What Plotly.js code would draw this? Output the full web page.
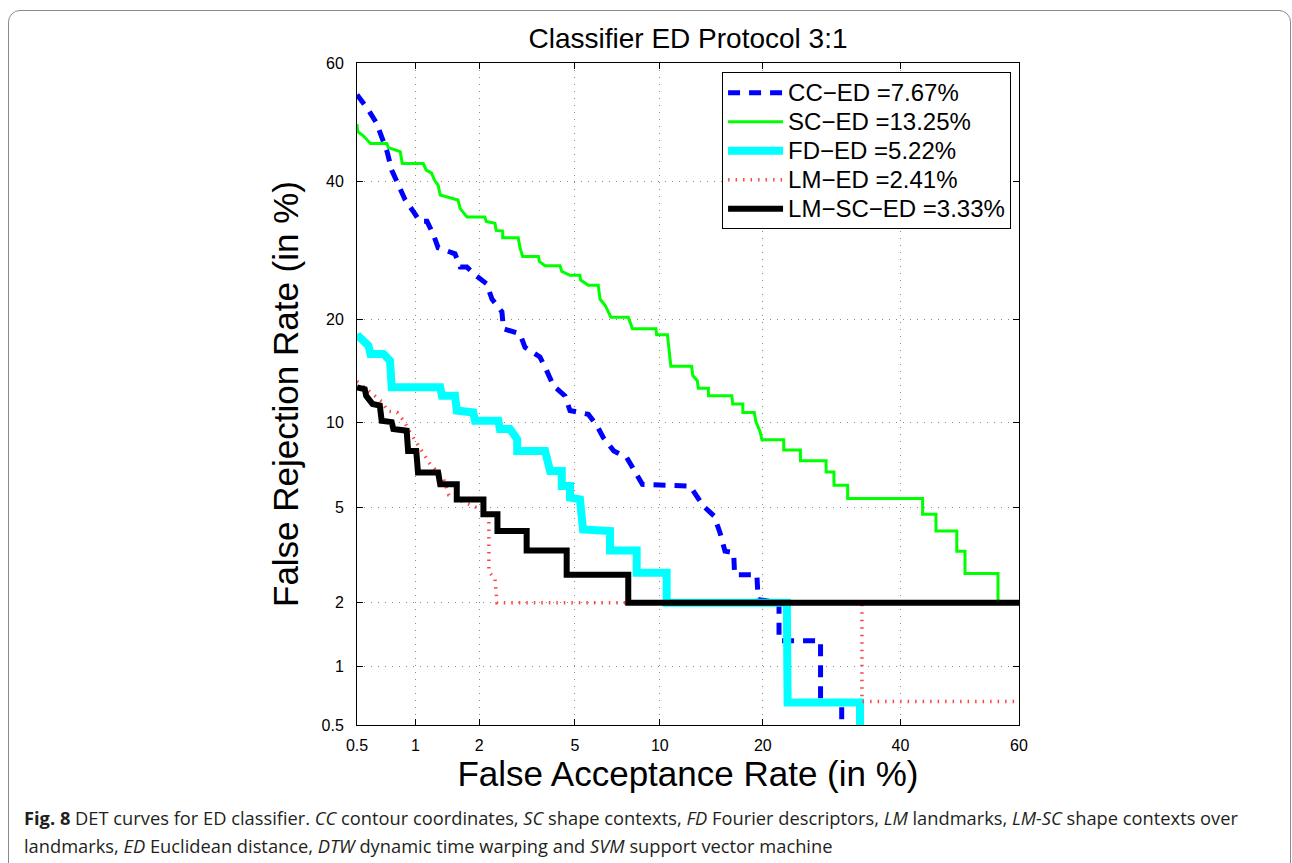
<!DOCTYPE html>
<html>
<head>
<meta charset="utf-8">
<script src="https://cdn.plot.ly/plotly-3.0.1.min.js"></script>
<style>
  html, body { margin: 0; padding: 0; background: #fff; }
  #wrap { position: relative; width: 1292px; height: 863px; overflow: hidden; }
  #frame { position: absolute; left: 8px; top: 10px; width: 1281px; height: 900px;
           border: 1px solid #8a8a8a; border-radius: 12px; pointer-events: none; }
  #chart { position: absolute; left: 0; top: 0; width: 1292px; height: 863px; }
</style>
</head>
<body>
<div id="wrap">
  <div id="chart"></div>
  <div id="frame"></div>
</div>
<script>
// ---- data (percent values) ----
const tickValues = [0.5, 1, 2, 5, 10, 20, 40, 60];
const tickLabels = ["0.5", "1", "2", "5", "10", "20", "40", "60"];

const ccFAR = [0.5, 0.575, 0.636, 0.67, 0.72, 0.76, 0.82, 0.89, 0.98, 1.05, 1.14, 1.22, 1.29, 1.55, 1.64, 1.76, 1.93, 2.16, 2.28, 2.52, 2.56, 3.01, 3.16, 3.64, 3.88, 4.13, 4.58, 4.79, 5.62, 6.05, 6.38, 6.97, 7.73, 8.16, 8.75, 12.45, 13.66, 14.7, 15.28, 15.79, 16.7, 16.8, 19.3, 19.45, 22.0, 22.0, 27.6, 27.6, 30.7, 30.7];
const ccFRR = [54.7, 52.1, 49.8, 47.6, 45.0, 41.9, 39.7, 37.0, 35.1, 33.6, 33.6, 31.7, 29.6, 28.7, 26.8, 26.8, 25.65, 24.5, 22.5, 20.9, 18.87, 18.3, 16.8, 15.8, 14.4, 13.0, 12.12, 10.9, 10.6, 9.74, 8.9, 8.0, 7.6, 6.91, 6.09, 6.0, 5.05, 4.62, 3.97, 3.34, 3.29, 2.66, 2.66, 2.07, 2.0, 1.335, 1.335, 0.66, 0.66, 0.45];

const scFAR = [0.5, 0.505, 0.54, 0.59, 0.717, 0.73, 0.84, 0.86, 1.094, 1.13, 1.2, 1.24, 1.29, 1.32, 1.6, 1.64, 1.76, 2.12, 2.15, 2.35, 2.38, 2.54, 2.54, 2.96, 3.01, 3.09, 3.59, 3.62, 3.82, 4.38, 4.45, 4.79, 5.23, 5.26, 5.62, 6.12, 6.21, 6.48, 6.66, 6.8, 7.83, 8.1, 9.71, 9.76, 10.58, 10.66, 10.85, 12.6, 12.7, 13.1, 13.2, 14.14, 14.14, 16.5, 16.6, 17.7, 17.7, 19.0, 19.2, 19.66, 19.9, 22.6, 22.6, 24.8, 24.8, 28.4, 28.4, 29.55, 29.55, 31.6, 31.6, 43.7, 43.7, 45.96, 45.96, 49.5, 49.5, 50.9, 50.9, 56.5, 56.5];
const scFRR = [49.7, 48.4, 47.7, 46.4, 46.4, 45.7, 45.0, 43.0, 43.0, 41.9, 41.4, 40.2, 39.4, 37.8, 37.0, 35.6, 34.3, 34.3, 33.6, 33.3, 32.2, 32.1, 31.1, 31.1, 29.6, 28.3, 28.3, 27.6, 27.0, 27.0, 26.2, 25.65, 25.65, 25.0, 24.3, 24.3, 22.5, 21.7, 20.9, 20.25, 20.25, 18.87, 18.87, 18.2, 18.2, 17.0, 14.86, 14.86, 13.95, 13.47, 12.78, 12.78, 12.12, 12.12, 11.43, 11.43, 10.75, 10.75, 10.0, 9.34, 8.74, 8.74, 8.07, 8.07, 7.4, 7.4, 6.75, 6.75, 6.04, 6.04, 5.39, 5.39, 4.69, 4.69, 4.03, 4.03, 3.34, 3.34, 2.69, 2.69, 2.0];

const fdFAR = [0.5, 0.505, 0.575, 0.59, 0.69, 0.745, 0.76, 1.32, 1.345, 1.55, 1.58, 1.88, 1.915, 2.43, 2.47, 2.73, 2.93, 2.93, 3.82, 3.88, 4.0, 4.45, 4.45, 4.79, 4.79, 5.23, 5.37, 6.75, 6.75, 8.37, 8.37, 10.52, 10.52, 23.0, 23.1, 33.5, 33.5];
const fdFRR = [18.3, 18.1, 17.0, 16.1, 16.1, 15.4, 12.87, 12.87, 12.12, 12.12, 10.9, 10.75, 10.1, 10.1, 9.49, 9.49, 8.78, 8.0, 8.0, 7.4, 6.81, 6.81, 6.0, 6.0, 5.43, 5.35, 4.09, 4.03, 3.36, 3.36, 2.71, 2.71, 2.0, 2.0, 0.657, 0.657, 0.45];

const lmFAR = [0.5, 0.6, 0.68, 0.725, 0.81, 0.875, 0.915, 0.94, 1.14, 1.18, 1.36, 1.45, 1.53, 2.03, 2.21, 2.21, 2.35, 2.4, 33.8, 33.8, 60];
const lmFRR = [13.4, 12.28, 11.6, 10.85, 10.75, 10.1, 9.6, 9.27, 7.5, 7.2, 6.46, 5.55, 5.45, 4.9, 4.6, 2.74, 2.55, 2.0, 2.0, 0.665, 0.665];

const lmscFAR = [0.5, 0.55, 0.56, 0.605, 0.66, 0.675, 0.76, 0.775, 0.905, 0.92, 1.01, 1.03, 1.29, 1.32, 1.58, 1.58, 2.09, 2.09, 2.41, 2.41, 3.21, 3.21, 4.65, 4.65, 7.83, 7.83, 60];
const lmscFRR = [12.87, 12.7, 12.12, 11.43, 11.3, 10.1, 10.0, 9.49, 9.37, 8.0, 8.0, 6.73, 6.73, 6.09, 6.09, 5.35, 5.35, 4.69, 4.69, 4.03, 4.03, 3.36, 3.36, 2.66, 2.66, 2.0, 2.0];

const seriesNames = ["CC\u2212ED =7.67%", "SC\u2212ED =13.25%", "FD\u2212ED =5.22%", "LM\u2212ED =2.41%", "LM\u2212SC\u2212ED =3.33%"];

// ---- normal deviate (probit) scale used by DET plots ----
function norminv(p) {
  const a = [-3.969683028665376e+01, 2.209460984245205e+02, -2.759285104469687e+02, 1.383577518672690e+02, -3.066479806614716e+01, 2.506628277459239e+00];
  const b = [-5.447609879822406e+01, 1.615858368580409e+02, -1.556989798598866e+02, 6.680131188771972e+01, -1.328068155288572e+01];
  const c = [-7.784894002430293e-03, -3.223964580411365e-01, -2.400758277161838e+00, -2.549732539343734e+00, 4.374664141464968e+00, 2.938163982698783e+00];
  const d = [7.784695709041462e-03, 3.224671290700398e-01, 2.445134137142996e+00, 3.754408661907416e+00];
  const plow = 0.02425, phigh = 1 - plow;
  let q, r;
  if (p < plow) {
    q = Math.sqrt(-2 * Math.log(p));
    return (((((c[0]*q+c[1])*q+c[2])*q+c[3])*q+c[4])*q+c[5]) / ((((d[0]*q+d[1])*q+d[2])*q+d[3])*q+1);
  }
  if (p <= phigh) {
    q = p - 0.5; r = q * q;
    return (((((a[0]*r+a[1])*r+a[2])*r+a[3])*r+a[4])*r+a[5])*q / (((((b[0]*r+b[1])*r+b[2])*r+b[3])*r+b[4])*r+1);
  }
  q = Math.sqrt(-2 * Math.log(1 - p));
  return -(((((c[0]*q+c[1])*q+c[2])*q+c[3])*q+c[4])*q+c[5]) / ((((d[0]*q+d[1])*q+d[2])*q+d[3])*q+1);
}
const probit = arr => arr.map(v => norminv(v / 100));

function trace(far, frr, name, line) {
  return {
    type: "scatter", mode: "lines",
    x: probit(far), y: probit(frr),
    customdata: far.map((f, i) => [f, frr[i]]),
    hovertemplate: "FAR %{customdata[0]}%<br>FRR %{customdata[1]}%<extra>" + name + "</extra>",
    name: '<span style="font-size:24px">' + name + '</span>', line: line
  };
}

const data = [
  trace(ccFAR, ccFRR, seriesNames[0], {color: "rgb(0,0,255)", width: 5, dash: "12px,9px"}),
  trace(scFAR, scFRR, seriesNames[1], {color: "rgb(0,255,0)", width: 3}),
  trace(fdFAR, fdFRR, seriesNames[2], {color: "rgb(0,255,255)", width: 8}),
  trace(lmFAR, lmFRR, seriesNames[3], {color: "rgb(255,70,70)", width: 3.5, dash: "1.5px,6px"}),
  trace(lmscFAR, lmscFRR, seriesNames[4], {color: "rgb(0,0,0)", width: 6})
];

const zTicks = probit(tickValues);
const zRange = [norminv(0.005), norminv(0.6)];
const baseFont = "Liberation Sans, Arial, sans-serif";

const axisCommon = {
  range: zRange, tickmode: "array", tickvals: zTicks, ticktext: tickLabels,
  ticks: "inside", ticklen: 6, tickcolor: "#000", tickwidth: 1,
  showline: true, linecolor: "#000", linewidth: 1, mirror: "ticks",
  showgrid: true, gridcolor: "#8c8c8c", gridwidth: 1, griddash: "1px,6px",
  zeroline: false, tickfont: {family: baseFont, size: 16, color: "#000"}
};

const layout = {
  width: 1292, height: 863,
  margin: {l: 357, r: 273, t: 63, b: 138},
  paper_bgcolor: "#fff", plot_bgcolor: "#fff",
  font: {family: baseFont, color: "#000"},
  showlegend: true,
  title: {text: "Classifier ED Protocol 3:1", font: {family: baseFont, size: 28, color: "#000"},
          x: 0.5, xref: "paper", y: 0.956, yref: "container", yanchor: "middle"},
  xaxis: Object.assign({}, axisCommon, {
    ticklabelstandoff: 6,
    title: {text: "False Acceptance Rate (in %)", font: {family: baseFont, size: 35, color: "#000"}, standoff: 6}
  }),
  yaxis: Object.assign({}, axisCommon, {
    ticklabelstandoff: 9,
    title: {text: "False Rejection Rate (in %)", font: {family: baseFont, size: 35, color: "#000"}, standoff: 12}
  }),
  legend: {
    x: 0.988, xanchor: "right", y: 0.986, yanchor: "top",
    bgcolor: "#fff", bordercolor: "#000", borderwidth: 1,
    font: {family: baseFont, size: 20, color: "#000"},
    itemwidth: 55, tracegroupgap: 0
  },
  annotations: [
    {xref: "paper", yref: "paper", x: (22 - 357) / 662, y: (725 - 817) / 662, xanchor: "left", yanchor: "middle",
     showarrow: false, align: "left", font: {family: "Open Sans, sans-serif", size: 18.3, color: "#231f20"},
     text: "<b>Fig. 8</b> DET curves for ED classifier. <i>CC</i> contour coordinates, <i>SC</i> shape contexts, <i>FD</i> Fourier descriptors, <i>LM</i> landmarks, <i>LM-SC</i> shape contexts over"},
    {xref: "paper", yref: "paper", x: (22 - 357) / 662, y: (725 - 845) / 662, xanchor: "left", yanchor: "middle",
     showarrow: false, align: "left", font: {family: "Open Sans, sans-serif", size: 18.3, color: "#231f20"},
     text: "landmarks, <i>ED</i> Euclidean distance, <i>DTW</i> dynamic time warping and <i>SVM</i> support vector machine"}
  ]
};

Plotly.newPlot("chart", data, layout, {displayModeBar: false});
</script>
</body>
</html>
